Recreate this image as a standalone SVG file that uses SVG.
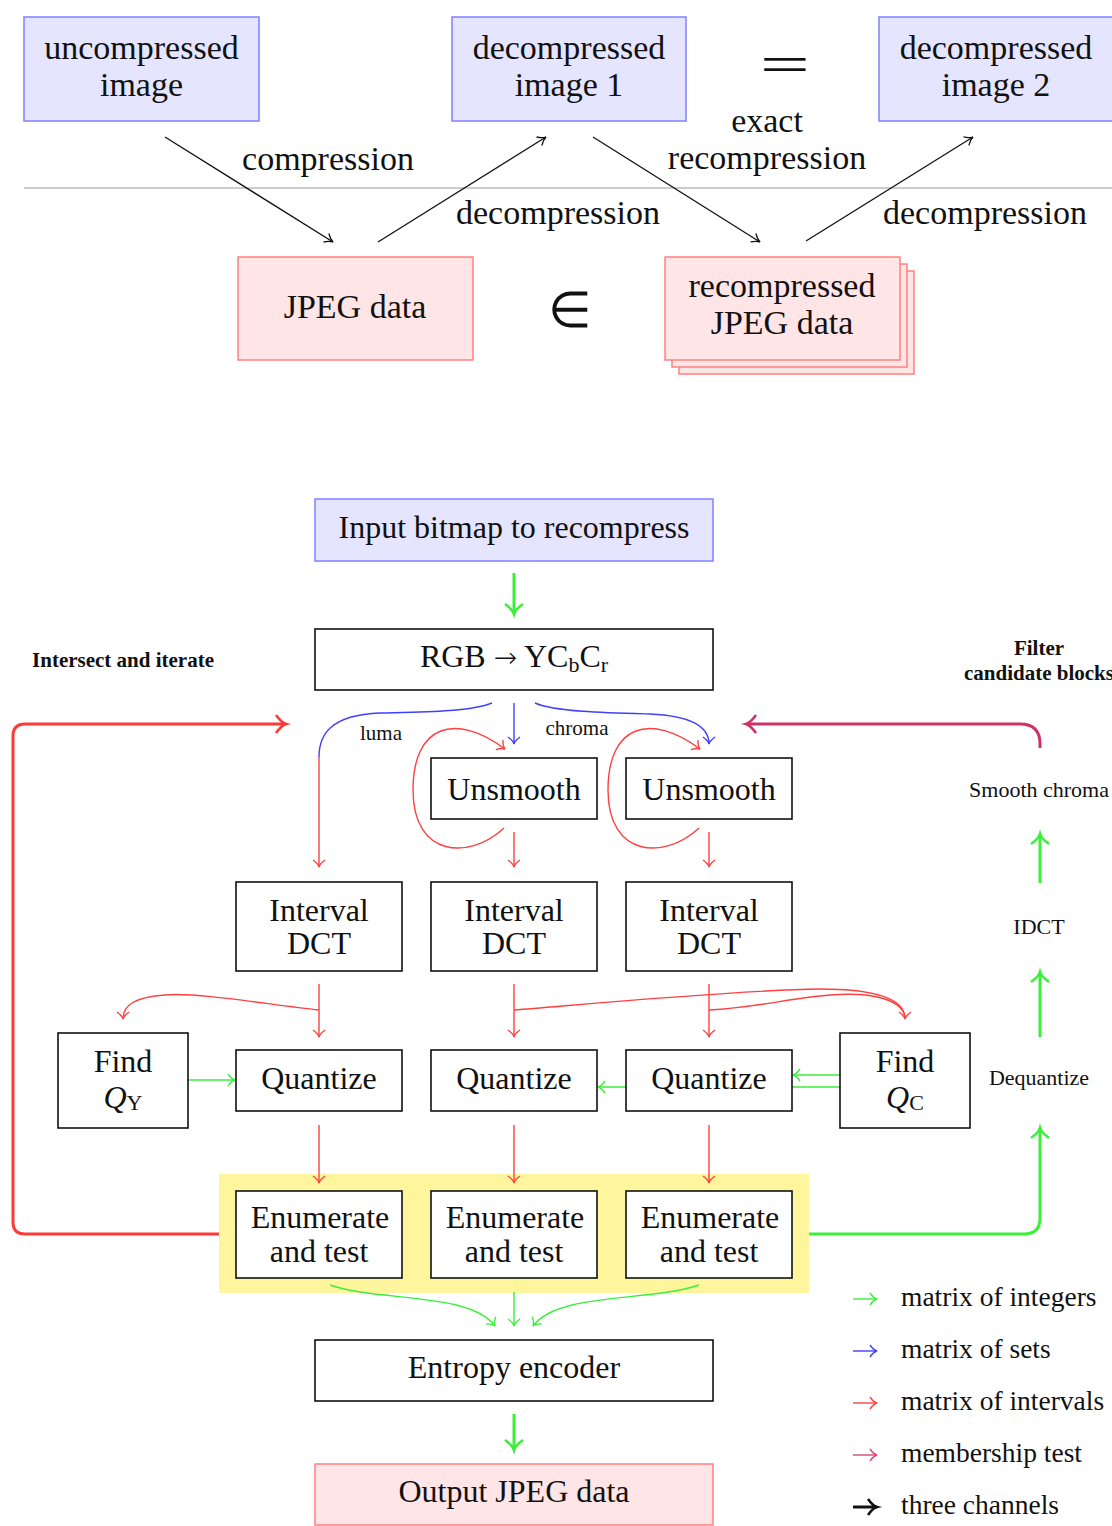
<svg xmlns="http://www.w3.org/2000/svg" width="1112" height="1526" viewBox="0 0 1112 1526">
<style>
text{font-family:"Liberation Serif",serif;fill:#111;text-anchor:middle}
.t34{font-size:34px}
.t32{font-size:32px}
.t27{font-size:27.5px;text-anchor:start}
.t22{font-size:22px}
.t21{font-size:21px}
.bold{font-weight:bold}
.blue{fill:#e5e5ff;stroke:#8080ff;stroke-width:1.5}
.pink{fill:#ffe5e5;stroke:#ff8080;stroke-width:1.5}
.box{fill:#fff;stroke:#111;stroke-width:1.6}
.ln{fill:none;stroke-linecap:butt}
.k{stroke:#111;stroke-width:1.3}
.g{stroke:#3af03a;stroke-width:1.4}
.gT{stroke:#3af03a;stroke-width:3}
.b{stroke:#4040ff;stroke-width:1.4}
.r{stroke:#ff4040;stroke-width:1.4}
.rT{stroke:#ff3838;stroke-width:3}
.c{stroke:#cc3366;stroke-width:3}
.ct{stroke:#d9486f;stroke-width:1.4}
.kT{stroke:#111;stroke-width:3}
</style>
<defs>
<marker id="mK" markerUnits="userSpaceOnUse" orient="auto" overflow="visible" markerWidth="1" markerHeight="1"><path d="M-8,-5 C-5,-2 -2,-0.5 0,0 C-2,0.5 -5,2 -8,5" fill="none" stroke="#111" stroke-width="1.3"/></marker>
<marker id="mG" markerUnits="userSpaceOnUse" orient="auto" overflow="visible" markerWidth="1" markerHeight="1"><path d="M-7,-6 C-4.5,-2.5 -2,-0.5 0,0 C-2,0.5 -4.5,2.5 -7,6" fill="none" stroke="#3af03a" stroke-width="1.4"/></marker>
<marker id="mB" markerUnits="userSpaceOnUse" orient="auto" overflow="visible" markerWidth="1" markerHeight="1"><path d="M-7,-6 C-4.5,-2.5 -2,-0.5 0,0 C-2,0.5 -4.5,2.5 -7,6" fill="none" stroke="#4040ff" stroke-width="1.4"/></marker>
<marker id="mR" markerUnits="userSpaceOnUse" orient="auto" overflow="visible" markerWidth="1" markerHeight="1"><path d="M-7,-6 C-4.5,-2.5 -2,-0.5 0,0 C-2,0.5 -4.5,2.5 -7,6" fill="none" stroke="#ff4040" stroke-width="1.4"/></marker>
<marker id="mCt" markerUnits="userSpaceOnUse" orient="auto" overflow="visible" markerWidth="1" markerHeight="1"><path d="M-7,-6 C-4.5,-2.5 -2,-0.5 0,0 C-2,0.5 -4.5,2.5 -7,6" fill="none" stroke="#d9486f" stroke-width="1.4"/></marker>
<marker id="mGT" markerUnits="userSpaceOnUse" orient="auto" overflow="visible" markerWidth="1" markerHeight="1"><path d="M-10,-9 C-6,-3.5 -3,-0.8 0,0 C-3,0.8 -6,3.5 -10,9" fill="none" stroke="#3af03a" stroke-width="2.6"/></marker>
<marker id="mRT" markerUnits="userSpaceOnUse" orient="auto" overflow="visible" markerWidth="1" markerHeight="1"><path d="M-10,-9 C-6,-3.5 -3,-0.8 0,0 C-3,0.8 -6,3.5 -10,9" fill="none" stroke="#ff3838" stroke-width="2.6"/></marker>
<marker id="mC" markerUnits="userSpaceOnUse" orient="auto" overflow="visible" markerWidth="1" markerHeight="1"><path d="M-10,-9 C-6,-3.5 -3,-0.8 0,0 C-3,0.8 -6,3.5 -10,9" fill="none" stroke="#cc3366" stroke-width="2.6"/></marker>
<marker id="mKT" markerUnits="userSpaceOnUse" orient="auto" overflow="visible" markerWidth="1" markerHeight="1"><path d="M-9,-8 C-5.5,-3 -3,-0.8 0,0 C-3,0.8 -5.5,3 -9,8" fill="none" stroke="#111" stroke-width="2.6"/></marker>
</defs>

<!-- background region behind enumerate nodes -->
<g id="n-enum-region"><rect x="219" y="1174" width="590" height="119" fill="#fff59d"/></g>

<line x1="24" y1="188" x2="1112" y2="188" stroke="#9a9a9a" stroke-width="1"/>

<g id="connectors">
  <!-- top -->
  <path class="ln k" d="M165,137 L333,242" marker-end="url(#mK)"/>
  <path class="ln k" d="M378,242 L546,137" marker-end="url(#mK)"/>
  <path class="ln k" d="M593,137 L760,242" marker-end="url(#mK)"/>
  <path class="ln k" d="M806,241 L973,137" marker-end="url(#mK)"/>
  <!-- bottom -->
  <path class="ln gT" d="M514,573 L514,614" marker-end="url(#mGT)"/>
  <path class="ln b" d="M492,703 C470,712 420,712 380,713 C330,715 319,735 319,757"/>
  <path class="ln r" d="M319,757 L319,867" marker-end="url(#mR)"/>
  <path class="ln b" d="M514,703 L514,744" marker-end="url(#mB)"/>
  <path class="ln b" d="M535,703 C555,712 610,713 650,714 C695,716 709,728 709,744" marker-end="url(#mB)"/>
  <path class="ln r" d="M504,828 C470,860 413,858 413,790 C413,725 455,712 505,749" marker-end="url(#mR)"/>
  <path class="ln r" d="M699,828 C665,860 608,858 608,790 C608,725 650,712 700,749" marker-end="url(#mR)"/>
  <path class="ln r" d="M514,832 L514,867" marker-end="url(#mR)"/>
  <path class="ln r" d="M709,832 L709,867" marker-end="url(#mR)"/>
  <path class="ln r" d="M319,984 L319,1037" marker-end="url(#mR)"/>
  <path class="ln r" d="M514,984 L514,1037" marker-end="url(#mR)"/>
  <path class="ln r" d="M709,984 L709,1037" marker-end="url(#mR)"/>
  <path class="ln r" d="M319,1010 C270,1005 200,992 165,995 C135,997 123,1005 123,1019" marker-end="url(#mR)"/>
  <path class="ln r" d="M514,1010 C600,1003 740,990 820,989 C880,989 905,1000 905,1019" marker-end="url(#mR)"/>
  <path class="ln r" d="M709,1010 C760,1007 790,998 830,995 C880,991 905,1003 905,1019"/>
  <path class="ln g" d="M188,1080 L235,1080" marker-end="url(#mG)"/>
  <path class="ln g" d="M840,1075 L793,1075" marker-end="url(#mG)"/>
  <path class="ln g" d="M840,1087 L598,1087" marker-end="url(#mG)"/>
  <path class="ln r" d="M319,1125 L319,1183" marker-end="url(#mR)"/>
  <path class="ln r" d="M514,1125 L514,1183" marker-end="url(#mR)"/>
  <path class="ln r" d="M709,1125 L709,1183" marker-end="url(#mR)"/>
  <path class="ln g" d="M330,1285 C380,1302 470,1292 495,1326" marker-end="url(#mG)"/>
  <path class="ln g" d="M514,1292 L514,1326" marker-end="url(#mG)"/>
  <path class="ln g" d="M699,1285 C649,1302 558,1292 533,1326" marker-end="url(#mG)"/>
  <path class="ln gT" d="M514,1414 L514,1450" marker-end="url(#mGT)"/>
  <path class="ln rT" d="M219,1234 L25,1234 Q13,1234 13,1222 L13,736 Q13,724 25,724 L286,724" marker-end="url(#mRT)"/>
  <path class="ln gT" d="M809,1234 L1024,1234 Q1040,1234 1040,1218 L1040,1128" marker-end="url(#mGT)"/>
  <path class="ln gT" d="M1040,1037 L1040,972" marker-end="url(#mGT)"/>
  <path class="ln gT" d="M1040,883 L1040,834" marker-end="url(#mGT)"/>
  <path class="ln c" d="M1040,748 L1040,744 Q1040,724 1020,724 L746,724" marker-end="url(#mC)"/>
  <!-- legend arrows -->
  <path class="ln g" d="M853,1299 L877,1299" marker-end="url(#mG)"/>
  <path class="ln b" d="M853,1351 L877,1351" marker-end="url(#mB)"/>
  <path class="ln r" d="M853,1403 L877,1403" marker-end="url(#mR)"/>
  <path class="ln ct" d="M853,1455 L877,1455" marker-end="url(#mCt)"/>
  <path class="ln kT" d="M853,1507 L877,1507" marker-end="url(#mKT)"/>
</g>

<!-- top nodes -->
<g id="n-uncompressed"><rect class="blue" x="24" y="17" width="235" height="104"/><text class="t34" x="141.5" y="59">uncompressed</text><text class="t34" x="141.5" y="96">image</text></g>
<g id="n-decomp1"><rect class="blue" x="452" y="17" width="234" height="104"/><text class="t34" x="569" y="59">decompressed</text><text class="t34" x="569" y="96">image 1</text></g>
<g id="n-decomp2"><rect class="blue" x="879" y="17" width="240" height="104"/><text class="t34" x="996" y="59">decompressed</text><text class="t34" x="996" y="96">image 2</text></g>
<g id="n-jpeg"><rect class="pink" x="238" y="257" width="235" height="103"/><text class="t34" x="355" y="318">JPEG data</text></g>
<g id="n-recomp"><rect class="pink" x="679" y="271" width="235" height="103"/><rect class="pink" x="672" y="264" width="235" height="103"/><rect class="pink" x="665" y="257" width="235" height="103"/><text class="t34" x="782" y="297">recompressed</text><text class="t34" x="782" y="334">JPEG data</text></g>
<g id="labels-top">
  <text style="font-family:'DejaVu Sans',sans-serif;font-size:66px;font-weight:200" x="785" y="85">=</text>
  <text style="font-family:'DejaVu Sans',sans-serif;font-size:50px;font-weight:200" x="570" y="327">∈</text>
  <text class="t34" x="328" y="170">compression</text>
  <text class="t34" x="558" y="224">decompression</text>
  <text class="t34" x="767" y="132">exact</text>
  <text class="t34" x="767" y="169">recompression</text>
  <text class="t34" x="985" y="224">decompression</text>
</g>

<!-- bottom nodes -->
<g id="n-input"><rect class="blue" x="315" y="499" width="398" height="62"/><text class="t32" x="514" y="538">Input bitmap to recompress</text></g>
<g id="n-rgb"><rect class="box" x="315" y="629" width="398" height="61"/><text class="t32" x="514" y="667">RGB <tspan style="font-family:'DejaVu Sans',sans-serif;font-weight:200" font-size="28">→</tspan> YC<tspan font-size="22" dy="5">b</tspan><tspan dy="-5">C</tspan><tspan font-size="22" dy="5">r</tspan></text></g>
<g id="n-unsmooth1"><rect class="box" x="431" y="758" width="166" height="61"/><text class="t32" x="514" y="800">Unsmooth</text></g>
<g id="n-unsmooth2"><rect class="box" x="626" y="758" width="166" height="61"/><text class="t32" x="709" y="800">Unsmooth</text></g>
<g id="n-dct1"><rect class="box" x="236" y="882" width="166" height="89"/><text class="t32" x="319" y="921">Interval</text><text class="t32" x="319" y="954">DCT</text></g>
<g id="n-dct2"><rect class="box" x="431" y="882" width="166" height="89"/><text class="t32" x="514" y="921">Interval</text><text class="t32" x="514" y="954">DCT</text></g>
<g id="n-dct3"><rect class="box" x="626" y="882" width="166" height="89"/><text class="t32" x="709" y="921">Interval</text><text class="t32" x="709" y="954">DCT</text></g>
<g id="n-findqy"><rect class="box" x="58" y="1033" width="130" height="95"/><text class="t32" x="123" y="1072">Find</text><text class="t32" x="123" y="1108"><tspan font-style="italic">Q</tspan><tspan font-size="22" dy="2">Y</tspan></text></g>
<g id="n-findqc"><rect class="box" x="840" y="1033" width="130" height="95"/><text class="t32" x="905" y="1072">Find</text><text class="t32" x="905" y="1108"><tspan font-style="italic">Q</tspan><tspan font-size="22" dy="2">C</tspan></text></g>
<g id="n-quant1"><rect class="box" x="236" y="1050" width="166" height="61"/><text class="t32" x="319" y="1089">Quantize</text></g>
<g id="n-quant2"><rect class="box" x="431" y="1050" width="166" height="61"/><text class="t32" x="514" y="1089">Quantize</text></g>
<g id="n-quant3"><rect class="box" x="626" y="1050" width="166" height="61"/><text class="t32" x="709" y="1089">Quantize</text></g>
<g id="n-enum1"><rect class="box" x="236" y="1191" width="166" height="87"/><text class="t32" x="320" y="1228">Enumerate</text><text class="t32" x="319" y="1262">and test</text></g>
<g id="n-enum2"><rect class="box" x="431" y="1191" width="166" height="87"/><text class="t32" x="515" y="1228">Enumerate</text><text class="t32" x="514" y="1262">and test</text></g>
<g id="n-enum3"><rect class="box" x="626" y="1191" width="166" height="87"/><text class="t32" x="710" y="1228">Enumerate</text><text class="t32" x="709" y="1262">and test</text></g>
<g id="n-entropy"><rect class="box" x="315" y="1340" width="398" height="61"/><text class="t32" x="514" y="1378">Entropy encoder</text></g>
<g id="n-output"><rect class="pink" x="315" y="1464" width="398" height="61"/><text class="t32" x="514" y="1502">Output JPEG data</text></g>

<g id="labels-bottom">
  <text class="t21" x="381" y="740">luma</text>
  <text class="t21" x="577" y="735">chroma</text>
  <text class="t21 bold" x="123" y="667">Intersect and iterate</text>
  <text class="t21 bold" x="1039" y="655">Filter</text>
  <text class="t21 bold" x="1039" y="680">candidate blocks</text>
  <text class="t22" x="1039" y="797">Smooth chroma</text>
  <text class="t22" x="1039" y="934">IDCT</text>
  <text class="t22" x="1039" y="1085">Dequantize</text>
</g>
<g id="legend">
  <text class="t27" x="901" y="1306">matrix of integers</text>
  <text class="t27" x="901" y="1358">matrix of sets</text>
  <text class="t27" x="901" y="1410">matrix of intervals</text>
  <text class="t27" x="901" y="1462">membership test</text>
  <text class="t27" x="901" y="1514">three channels</text>
</g>
</svg>
